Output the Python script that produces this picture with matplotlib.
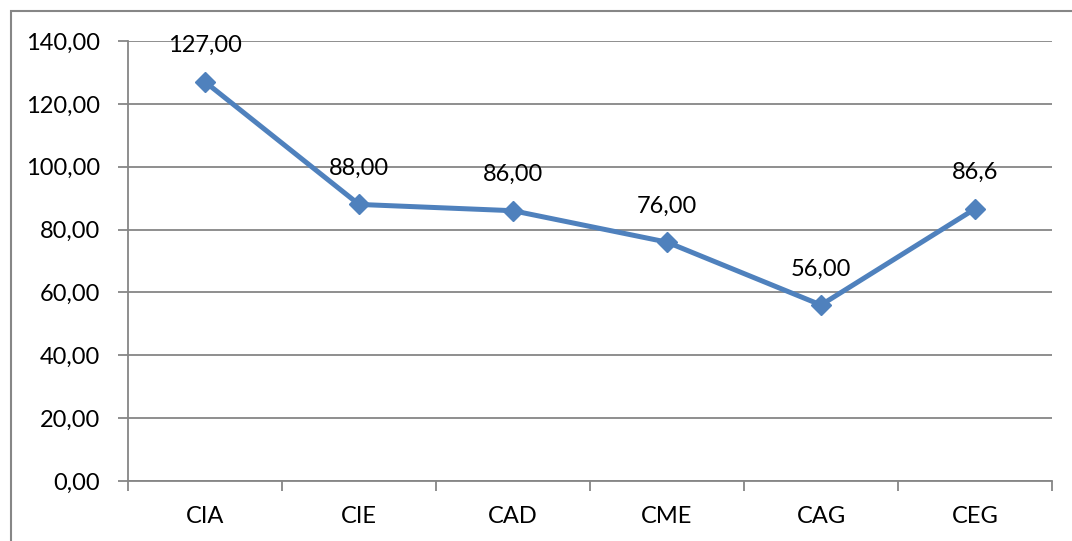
import matplotlib
matplotlib.use("Agg")
import matplotlib.pyplot as plt
from matplotlib.patches import Rectangle

categories = ["CIA", "CIE", "CAD", "CME", "CAG", "CEG"]
values = [127.0, 88.0, 86.0, 76.0, 56.0, 86.6]
point_labels = ["127,00", "88,00", "86,00", "76,00", "56,00", "86,6"]
yticks = [0, 20, 40, 60, 80, 100, 120, 140]

plt.rcParams["font.family"] = ["Lato", "DejaVu Sans"]
grey = "#868686"
blue = "#4F81BD"
fs = 17

fig = plt.figure(figsize=(10.72, 5.41), dpi=100)
ax = fig.add_axes([128 / 1072, 60 / 541, 924 / 1072, 440 / 541])

# outer chart frame (only top and left edges fall inside the image)
fig.patches.append(Rectangle((11 / 1072, -0.1), 1.2, (530 / 541) + 0.1,
                             transform=fig.transFigure, fill=False,
                             edgecolor=grey, linewidth=1.5))

x = list(range(len(categories)))
ax.plot(x, values, color=blue, linewidth=3.6, marker="D", markersize=10,
        markeredgecolor=blue, markerfacecolor=blue, zorder=3)

for xi, v, lab in zip(x, values, point_labels):
    ax.annotate(lab, (xi, v), xytext=(0, 26), textcoords="offset points",
                ha="center", va="center", fontsize=fs)

ax.set_xlim(-0.5, len(categories) - 0.5)
ax.set_ylim(0, 140)
ax.set_yticks(yticks)
ax.set_yticklabels([f"{t:.2f}".replace(".", ",") for t in yticks], fontsize=fs)
ax.grid(axis="y", color=grey, linewidth=1.3)
ax.set_axisbelow(True)

# category ticks sit between categories, labels at centers
ax.set_xticks([i - 0.5 for i in range(len(categories) + 1)])
ax.set_xticklabels([])
ax.set_xticks(x, minor=True)
ax.set_xticklabels(categories, minor=True, fontsize=fs)
ax.tick_params(axis="x", which="minor", length=0, pad=18)
ax.tick_params(axis="x", which="major", length=7, color=grey, width=1.3)
ax.tick_params(axis="y", length=7, color=grey, width=1.3, pad=13)

for s in ["top", "right"]:
    ax.spines[s].set_visible(False)
for s in ["left", "bottom"]:
    ax.spines[s].set_color(grey)
    ax.spines[s].set_linewidth(1.3)

fig.savefig("out.png", dpi=100)
